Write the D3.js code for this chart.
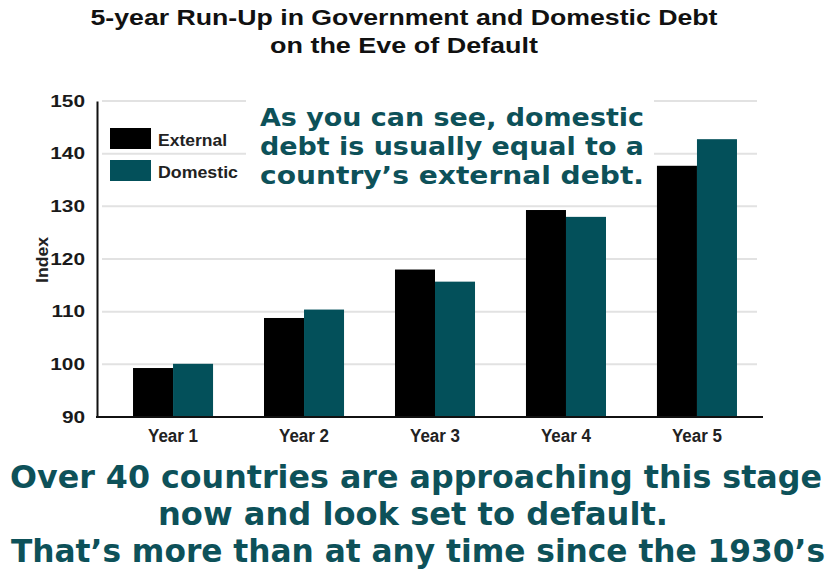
<!DOCTYPE html>
<html>
<head>
<meta charset="utf-8">
<script src="https://cdn.jsdelivr.net/npm/d3@7"></script>
<style>
  body { margin: 0; background: #fff; }
  svg { display: block; }
</style>
</head>
<body>
<svg id="chart"></svg>
<script>
// data
let years = ["Year 1", "Year 2", "Year 3", "Year 4", "Year 5"];
let seriesNames = ["External", "Domestic"];
let external = [99.3, 108.8, 118.0, 129.3, 137.7];
let domestic = [100.1, 110.4, 115.7, 128.0, 142.75];
let yTicks = [90, 100, 110, 120, 130, 140, 150];
let titleLines = ["5-year Run-Up in Government and Domestic Debt", "on the Eve of Default"];
let noteLines = ["As you can see, domestic", "debt is usually equal to a", "country\u2019s external debt."];
let footLines = ["Over 40 countries are approaching this stage", "now and look set to default.", "That\u2019s more than at any time since the 1930\u2019s"];

let width = 828, height = 573;
let teal = "#03505a", ink = "#0d5159";
let hand = "'DejaVu Sans Condensed', 'DejaVu Sans', sans-serif";
let bold = "'Liberation Sans', Arial, sans-serif";

let svg = d3.select("#chart").attr("width", width).attr("height", height);

// squeeze / stretch a text to a given width
let fit = function (sel, w) {
    sel.attr("textLength", w).attr("lengthAdjust", "spacingAndGlyphs");
};

let rows = years.map((y, i) => ({year: y, External: external[i], Domestic: domestic[i]}));

// scales
let x0 = d3.scaleBand()
    .domain(years)
    .range([97, 773])
    .paddingInner(0.389)
    .paddingOuter(0.275);
let x1 = d3.scaleBand()
    .domain(seriesNames)
    .range([0, x0.bandwidth()]);
let y = d3.scaleLinear()
    .domain([90, 150])
    .range([417, 101]);
let color = d3.scaleOrdinal().domain(seriesNames).range(["#000", teal]);

// gridlines
svg.append("g")
    .selectAll("line")
    .data(yTicks.filter(t => t > 90))
    .join("line")
    .attr("x1", 102)
    .attr("x2", 757)
    .attr("y1", d => y(d))
    .attr("y2", d => y(d))
    .attr("stroke", "#e2e2e2")
    .attr("stroke-width", 2);

// white box behind the note
svg.append("rect")
    .attr("x", 246).attr("y", 93)
    .attr("width", 408).attr("height", 104)
    .attr("fill", "#fff");

// bars
svg.append("g")
    .selectAll("g")
    .data(rows)
    .join("g")
    .attr("transform", d => `translate(${x0(d.year)},0)`)
    .selectAll("rect")
    .data(d => seriesNames.map(k => ({key: k, value: d[k]})))
    .join("rect")
    .attr("x", d => x1(d.key))
    .attr("y", d => y(d.value))
    .attr("width", x1.bandwidth())
    .attr("height", d => y(90) - y(d.value))
    .attr("fill", d => color(d.key));

// y axis
let yAx = d3.axisLeft(y).tickValues(yTicks).tickSize(0).tickPadding(12);
let gy = svg.append("g")
    .attr("transform", "translate(97,0)")
    .call(yAx);
gy.select(".domain").attr("stroke", "#111").attr("stroke-width", 2);
gy.selectAll("text")
    .attr("font-family", bold)
    .attr("font-weight", "bold")
    .attr("font-size", 16)
    .attr("fill", "#1a1a1a")
    .each(function () {
        let w = this.getComputedTextLength();
        d3.select(this).call(fit, w * 1.3);
    });

// x axis
let xAx = d3.axisBottom(x0).tickSize(0).tickPadding(12);
let gx = svg.append("g")
    .attr("transform", `translate(0,${y(90)})`)
    .call(xAx);
gx.select(".domain").remove();
gx.selectAll("text")
    .attr("font-family", bold)
    .attr("font-weight", "bold")
    .attr("font-size", 18)
    .attr("fill", "#222")
    .call(fit, 50);
svg.append("line")
    .attr("x1", 96).attr("x2", 763)
    .attr("y1", y(90)).attr("y2", y(90))
    .attr("stroke", "#111")
    .attr("stroke-width", 2);

// axis title
svg.append("text")
    .attr("transform", "translate(48,260) rotate(-90)")
    .attr("text-anchor", "middle")
    .attr("font-family", bold)
    .attr("font-weight", "bold")
    .attr("font-size", 17)
    .attr("fill", "#222")
    .text("Index")
    .call(fit, 46);

// legend
let legend = svg.append("g")
    .selectAll("g")
    .data(seriesNames)
    .join("g")
    .attr("transform", (d, i) => `translate(110,${128 + i * 32})`);
legend.append("rect")
    .attr("width", 41)
    .attr("height", 21)
    .attr("fill", d => color(d));
legend.append("text")
    .attr("x", 48)
    .attr("y", 18)
    .attr("font-family", bold)
    .attr("font-weight", "bold")
    .attr("font-size", 16)
    .attr("fill", "#222")
    .text(d => d)
    .each(function (d) {
        d3.select(this).call(fit, d === "External" ? 69 : 80);
    });

// title
let titleW = [627, 268];
svg.append("g")
    .selectAll("text")
    .data(titleLines)
    .join("text")
    .attr("x", 404)
    .attr("y", (d, i) => 25 + i * 28)
    .attr("text-anchor", "middle")
    .attr("font-family", bold)
    .attr("font-weight", "bold")
    .attr("font-size", 22)
    .attr("fill", "#111")
    .text(d => d)
    .each(function (d, i) {
        d3.select(this).call(fit, titleW[i]);
    });

// handwritten note
svg.append("g")
    .selectAll("text")
    .data(noteLines)
    .join("text")
    .attr("x", 452)
    .attr("y", (d, i) => 126 + i * 29)
    .attr("text-anchor", "middle")
    .attr("font-family", hand)
    .attr("font-weight", "bold")
    .attr("font-size", 25)
    .attr("fill", ink)
    .text(d => d)
    .call(fit, 384);

// footer
let footW = [812, 510, 814];
let footX = [416, 413, 418];
svg.append("g")
    .selectAll("text")
    .data(footLines)
    .join("text")
    .attr("x", (d, i) => footX[i])
    .attr("y", (d, i) => 488 + i * 37)
    .attr("text-anchor", "middle")
    .attr("font-family", hand)
    .attr("font-weight", "bold")
    .attr("font-size", 32)
    .attr("fill", ink)
    .text(d => d)
    .each(function (d, i) {
        d3.select(this).call(fit, footW[i]);
    });
</script>
</body>
</html>
